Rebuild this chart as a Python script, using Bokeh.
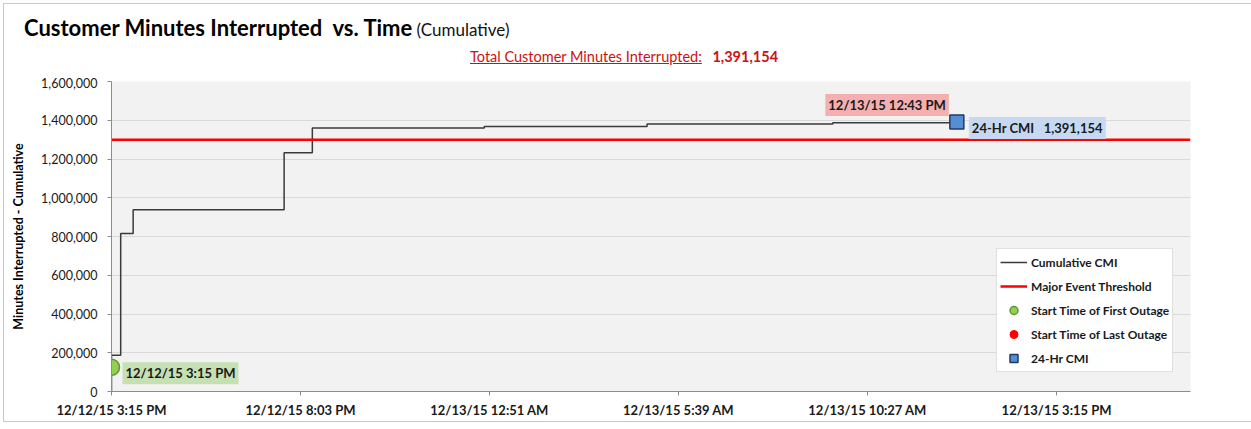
import pandas as pd
from bokeh.plotting import figure
from bokeh.layouts import column
from bokeh.models import (Range1d, FixedTicker, NumeralTickFormatter, Label,
                          Legend, LegendItem, ColumnDataSource, Div)
from bokeh.embed import file_html
from bokeh.resources import INLINE

FMT = "%m/%d/%y %I:%M %p"

# ---- data ----
step_times = ["12/12/15 3:15 PM", "12/12/15 3:15 PM", "12/12/15 3:29 PM",
              "12/12/15 3:48 PM", "12/12/15 7:38 PM", "12/12/15 8:21 PM",
              "12/13/15 12:43 AM", "12/13/15 4:51 AM", "12/13/15 9:34 AM",
              "12/13/15 12:43 PM"]
cmi_values = [0, 187000, 815000, 938000, 1232000, 1360000,
              1368000, 1381000, 1387000, 1391154]
threshold_value = 1300000
first_outage_time = ["12/12/15 3:15 PM"]
first_outage_level = [125000]
last_outage_time = [None]          # not drawn in the reference chart
last_outage_level = [None]
cmi24_time = ["12/13/15 12:43 PM"]
cmi24_value = [1391154]
total_cmi = 1391154
x_tick_labels = ["12/12/15 3:15 PM", "12/12/15 8:03 PM", "12/13/15 12:51 AM",
                 "12/13/15 5:39 AM", "12/13/15 10:27 AM", "12/13/15 3:15 PM"]
x_axis_start = "12/12/15 3:15 PM"
x_axis_end = "12/13/15 6:39 PM"
y_axis_max = 1600000
y_tick_step = 200000

title_text = "Customer Minutes Interrupted&nbsp; vs. Time"
title_suffix = "(Cumulative)"
subtitle_text = "Total Customer Minutes Interrupted:"

FONT = "Lato"
W = 1242


def to_dt(lst):
    return pd.to_datetime(pd.Series(lst), format=FMT)


def to_ms(s):
    return int(pd.Timestamp(pd.to_datetime(s, format=FMT)).value // 10**6)


xs = to_dt(step_times)
tick_ms = [to_ms(s) for s in x_tick_labels]

# ---- header (title + subtitle) ----
header_html = f"""
<div style="position:relative;width:{W - 12}px;height:63px;font-family:'{FONT}';">
  <div style="position:absolute;left:15px;top:8px;white-space:nowrap;line-height:1;">
    <span style="font-size:22px;font-weight:bold;color:#000;">{title_text}</span><span
      style="font-size:17px;color:#111;">&nbsp;{title_suffix}</span>
  </div>
  <div style="position:absolute;left:461px;top:41px;white-space:nowrap;line-height:1;color:#cc1111;">
    <span style="font-size:14.5px;text-decoration:underline;">{subtitle_text}</span><span
      style="font-size:14.5px;font-weight:bold;">&nbsp;&nbsp;&nbsp;{total_cmi:,}</span>
  </div>
</div>
"""
header = Div(text=header_html, width=W, height=63)

# ---- chart ----
p = figure(width=W, height=344, x_axis_type="datetime",
           output_backend="svg", toolbar_location=None,
           x_range=Range1d(to_ms(x_axis_start), to_ms(x_axis_end)),
           y_range=Range1d(0, y_axis_max),
           min_border_left=107, min_border_right=56,
           min_border_top=4, min_border_bottom=30)
p.border_fill_color = "#ffffff"
p.outline_line_color = None
p.background_fill_color = "#f2f2f2"

p.xgrid.grid_line_color = None
p.ygrid.grid_line_color = "#d9d9d9"
p.ygrid.grid_line_width = 1
p.yaxis.ticker = FixedTicker(ticks=list(range(0, y_axis_max + 1, y_tick_step)))
p.yaxis.formatter = NumeralTickFormatter(format="0,0")
p.xaxis.ticker = FixedTicker(ticks=tick_ms)
p.xaxis.major_label_overrides = {t: lab for t, lab in zip(tick_ms, x_tick_labels)}

for ax in (p.xaxis, p.yaxis):
    ax.axis_line_color = "#8c8c8c"
    ax.major_tick_line_color = "#8c8c8c"
    ax.minor_tick_line_color = None
    ax.major_tick_in = 0
    ax.major_tick_out = 4
    ax.major_label_text_font = FONT
    ax.major_label_text_color = "#1a1a1a"

p.yaxis.major_label_text_font_size = "12.5px"
p.yaxis.major_label_standoff = 10
p.xaxis.major_label_text_font_size = "13px"
p.xaxis.major_label_text_font_style = "bold"
p.xaxis.major_label_standoff = 6
p.yaxis.axis_label = "Minutes Interrupted - Cumulative"
p.yaxis.axis_label_text_font = FONT
p.yaxis.axis_label_text_font_size = "12.5px"
p.yaxis.axis_label_text_font_style = "bold"
p.yaxis.axis_label_text_color = "#000000"
p.yaxis.axis_label_standoff = 12

src = ColumnDataSource(dict(x=xs, y=cmi_values))
r_step = p.step("x", "y", source=src, mode="after", line_color="#3a3a3a", line_width=1.5)
r_thr = p.line(x=to_dt([x_axis_start, x_axis_end]), y=[threshold_value, threshold_value],
               line_color="#ff0000", line_width=2.5)
r_first = p.scatter(x=to_dt(first_outage_time), y=first_outage_level, marker="circle",
                    size=16, fill_color="#92d050", line_color="#5b9b34", line_width=1.5)
r_last = p.scatter(x=pd.to_datetime(pd.Series(last_outage_time)),
                   y=[float("nan") if v is None else v for v in last_outage_level],
                   marker="circle", size=10, fill_color="#ff0000", line_color="#ff0000")
r_24 = p.scatter(x=to_dt(cmi24_time), y=cmi24_value, marker="square", size=14,
                 fill_color="#558ed5", line_color="#203a63", line_width=1.5)

lbl_kw = dict(text_font=FONT, text_font_size="13px", text_font_style="bold",
              text_color="#1a1a1a", padding=3)
p.add_layout(Label(x=to_ms(first_outage_time[0]), y=first_outage_level[0],
                   x_offset=11, y_offset=-6, text=first_outage_time[0],
                   text_align="left", text_baseline="middle",
                   background_fill_color="#c5e0b3", **lbl_kw))
p.add_layout(Label(x=to_ms(cmi24_time[0]), y=cmi24_value[0],
                   x_offset=-8, y_offset=6, text=cmi24_time[0],
                   text_align="right", text_baseline="bottom",
                   background_fill_color="#f4b0b0", **lbl_kw))
p.add_layout(Label(x=to_ms(cmi24_time[0]), y=cmi24_value[0],
                   x_offset=12, y_offset=-6, text=f"24-Hr CMI\u00a0\u00a0 {cmi24_value[0]:,}",
                   text_align="left", text_baseline="middle",
                   background_fill_color="#c6d9f1", **lbl_kw))

legend = Legend(items=[
    LegendItem(label="Cumulative CMI", renderers=[r_step]),
    LegendItem(label="Major Event Threshold", renderers=[r_thr]),
    LegendItem(label="Start Time of First Outage", renderers=[r_first]),
    LegendItem(label="Start Time of Last Outage", renderers=[r_last]),
    LegendItem(label="24-Hr CMI", renderers=[r_24]),
], location=(885, 19), margin=0, padding=3, spacing=4,
    glyph_width=27, glyph_height=20, label_height=20, label_standoff=4,
    label_text_font=FONT, label_text_font_size="12px", label_text_font_style="bold",
    label_text_color="#1a1a1a", border_line_color="#bfbfbf", border_line_width=1,
    background_fill_color="#ffffff", background_fill_alpha=1.0)
p.add_layout(legend)

layout = column(header, p, spacing=0,
                styles={"border": "1px solid #c8c8c8", "margin-left": "3px",
                        "margin-top": "3px", "background-color": "#ffffff"})

open("out.html", "w").write(file_html(layout, INLINE))
